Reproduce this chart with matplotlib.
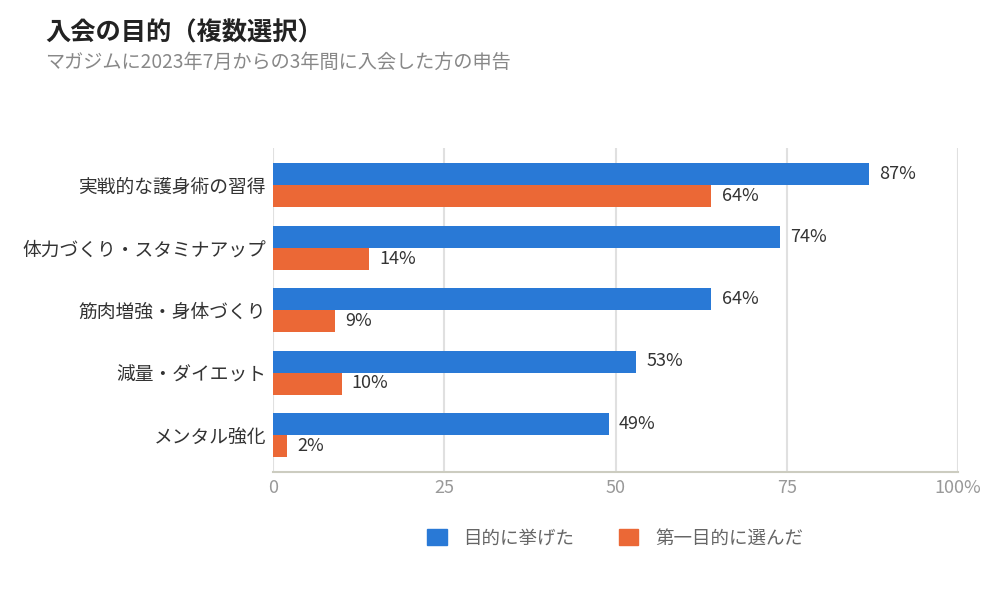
import matplotlib
matplotlib.use("Agg")
import matplotlib.pyplot as plt
from matplotlib.patches import Patch

plt.rcParams['font.family'] = ['Noto Sans CJK JP', 'DejaVu Sans']

categories = ["実戦的な護身術の習得", "体力づくり・スタミナアップ", "筋肉増強・身体づくり", "減量・ダイエット", "メンタル強化"]
listed = [87, 74, 64, 53, 49]
first = [64, 14, 9, 10, 2]
series_names = ["目的に挙げた", "第一目的に選んだ"]
xticks = [0, 25, 50, 75, 100]
xticklabels = ["0", "25", "50", "75", "100%"]

BLUE = "#2979d6"
ORANGE = "#eb6836"

fig = plt.figure(figsize=(10, 6), dpi=100)
ax = fig.add_axes([0.273, 1 - 472/600, 0.958 - 0.273, (472 - 148)/600])

h = 0.352
ys = list(range(len(categories)))
ax.barh([y - h/2 for y in ys], listed, height=h, color=BLUE, zorder=3)
ax.barh([y + h/2 for y in ys], first, height=h, color=ORANGE, zorder=3)

for y, v in zip(ys, listed):
    ax.text(v + 1.5, y - h/2, f"{v}%", va="center", ha="left", fontsize=13, color="#333333")
for y, v in zip(ys, first):
    ax.text(v + 1.5, y + h/2, f"{v}%", va="center", ha="left", fontsize=13, color="#333333")

ax.set_xlim(0, 100)
ax.set_ylim(len(categories) - 1 + 0.592, -0.592)
ax.set_yticks(ys)
ax.set_yticklabels(categories, fontsize=13.5, color="#333333")
ax.set_xticks(xticks)
ax.set_xticklabels(xticklabels, fontsize=13, color="#999999")
ax.tick_params(axis="both", length=0)
ax.tick_params(axis="y", pad=5)
ax.tick_params(axis="x", pad=5)
ax.grid(axis="x", color="#e0e0e0", linewidth=1.5, zorder=0)
for s in ["top", "right", "left"]:
    ax.spines[s].set_visible(False)
ax.spines["bottom"].set_color("#ccccc0")
ax.spines["bottom"].set_linewidth(1.5)

fig.text(0.045, 1 - 33/600, "入会の目的（複数選択）", fontsize=18.2, fontweight="bold", color="#222222", va="center")
fig.text(0.045, 1 - 62/600, "マガジムに2023年7月からの3年間に入会した方の申告", fontsize=13.8, color="#888888", va="center")

handles = [Patch(color=BLUE), Patch(color=ORANGE)]
fig.legend(handles, series_names, loc="center", bbox_to_anchor=(0.615, 1 - 538/600), ncol=2,
           frameon=False, fontsize=13.3, labelcolor="#666666", handlelength=1.07, handleheight=1.0,
           handletextpad=0.9, columnspacing=2.4)

fig.savefig("out.png", dpi=100)
